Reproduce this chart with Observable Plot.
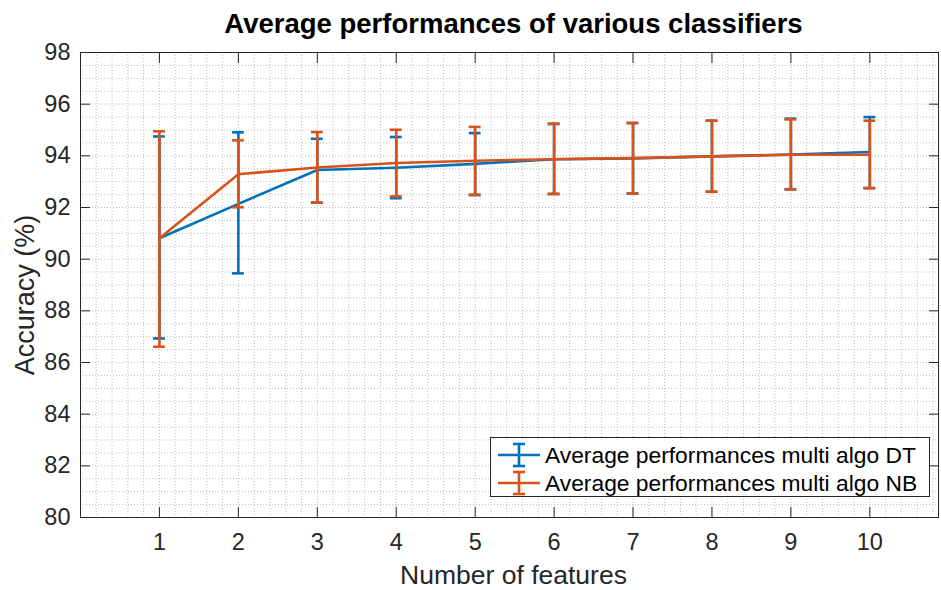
<!DOCTYPE html>
<html>
<head>
<meta charset="utf-8">
<script src="https://cdn.jsdelivr.net/npm/d3@7"></script>
<script src="https://cdn.jsdelivr.net/npm/@observablehq/plot@0.6"></script>
<style>
  body { margin: 0; background: #fff; font-family: "Liberation Sans", Arial, Helvetica, sans-serif; }
  #wrap { position: relative; width: 941px; height: 590px; }
  #legend { position: absolute; left: 490px; top: 437px; width: 440px; height: 60px; background: #fff; border: 1px solid #262626; box-sizing: border-box; }
  .entry { position: absolute; left: 5px; height: 28px; display: flex; align-items: center; }
  .entry span { font-size: 22.8px; color: #000; margin-left: 5px; white-space: nowrap; }
</style>
</head>
<body>
<div id="wrap"></div>
<script>
// ---- data ----
const features = [1, 2, 3, 4, 5, 6, 7, 8, 9, 10];
const dtMean  = [90.81, 92.14, 93.45, 93.54, 93.69, 93.87, 93.90, 93.98, 94.05, 94.15];
const dtLow   = [86.93, 89.45, 92.19, 92.36, 92.48, 92.52, 92.54, 92.61, 92.70, 92.75];
const dtHigh  = [94.75, 94.91, 94.66, 94.73, 94.88, 95.23, 95.27, 95.36, 95.44, 95.50];
const nbMean  = [90.81, 93.29, 93.55, 93.72, 93.81, 93.87, 93.91, 93.98, 94.04, 94.04];
const nbLow   = [86.61, 92.01, 92.19, 92.43, 92.50, 92.53, 92.54, 92.61, 92.71, 92.75];
const nbHigh  = [94.95, 94.60, 94.92, 95.01, 95.12, 95.25, 95.27, 95.36, 95.41, 95.36];
const seriesNames = ["Average performances multi algo DT", "Average performances multi algo NB"];
const colors = ["#0072BD", "#D95319"];
const yTicks = [80, 82, 84, 86, 88, 90, 92, 94, 96, 98];
const xTicks = features;

const dt = features.map((f, i) => ({x: f, m: dtMean[i], lo: dtLow[i], hi: dtHigh[i]}));
const nb = features.map((f, i) => ({x: f, m: nbMean[i], lo: nbLow[i], hi: nbHigh[i]}));

const capHalf = 0.075;
const font = "Liberation Sans, Arial, Helvetica, sans-serif";
const gridStyle = {stroke: "#bfbfbf", strokeWidth: 1, strokeDasharray: "1,2", strokeOpacity: 1};

function seriesMarks(data, color) {
  return [
    Plot.line(data, {x: "x", y: "m", stroke: color, strokeWidth: 2.6}),
    Plot.ruleX(data, {x: "x", y1: "lo", y2: "hi", stroke: color, strokeWidth: 2.6}),
    Plot.ruleY(data, {y: "hi", x1: d => d.x - capHalf, x2: d => d.x + capHalf, stroke: color, strokeWidth: 2.6}),
    Plot.ruleY(data, {y: "lo", x1: d => d.x - capHalf, x2: d => d.x + capHalf, stroke: color, strokeWidth: 2.6})
  ];
}

const chart = Plot.plot({
  width: 941,
  height: 590,
  marginLeft: 80,
  marginRight: 3,
  marginTop: 52,
  marginBottom: 73,
  style: {fontFamily: font, background: "#fff", overflow: "visible"},
  x: {domain: [0, 10.87]},
  y: {domain: [80, 98]},
  marks: [
    Plot.ruleX(d3.range(0.2, 10.87, 0.2), {x: d => d, ...gridStyle}),
    Plot.ruleY(d3.range(80.5, 98, 0.5), {y: d => d, ...gridStyle}),
    ...seriesMarks(dt, colors[0]),
    ...seriesMarks(nb, colors[1]),
    Plot.frame({stroke: "#262626", strokeWidth: 1}),
    Plot.axisX({ticks: xTicks, tickSize: -10, tickFormat: () => "", label: null, stroke: "#262626"}),
    Plot.axisX({anchor: "top", ticks: xTicks, tickSize: -10, tickFormat: () => "", label: null, stroke: "#262626"}),
    Plot.axisX({ticks: xTicks, tickSize: 0, tickPadding: 16, label: null, fontSize: 23.5, fill: "#262626"}),
    Plot.axisY({ticks: yTicks, tickSize: -10, tickFormat: () => "", label: null, stroke: "#262626"}),
    Plot.axisY({anchor: "right", ticks: yTicks, tickSize: -10, tickFormat: () => "", label: null, stroke: "#262626"}),
    Plot.axisY({ticks: yTicks, tickSize: 0, tickPadding: 10, label: null, fontSize: 23.5, fill: "#262626"}),
    Plot.text(["Average performances of various classifiers"], {text: d => d, frameAnchor: "top", textAnchor: "middle", lineAnchor: "middle", dx: 4, dy: -28.6, fontSize: 27.5, fontWeight: "bold", fill: "#000"}),
    Plot.text(["Number of features"], {text: d => d, frameAnchor: "bottom", textAnchor: "middle", lineAnchor: "middle", dx: 4, dy: 58.5, fontSize: 26.5, fill: "#262626"}),
    Plot.text(["Accuracy (%)"], {text: d => d, frameAnchor: "left", textAnchor: "middle", lineAnchor: "middle", dx: -55.6, dy: 10, rotate: -90, fontSize: 27, fill: "#262626"})
  ]
});

const wrap = document.getElementById("wrap");
wrap.appendChild(chart);

// legend
const legend = document.createElement("div");
legend.id = "legend";
seriesNames.forEach((name, i) => {
  const e = document.createElement("div");
  e.className = "entry";
  e.style.top = (i === 0 ? 3 : 31) + "px";
  const c = colors[i];
  e.innerHTML = `<svg width="44" height="24" style="overflow:visible"><line x1="2" y1="12" x2="44" y2="12" stroke="${c}" stroke-width="2.6"/><line x1="23" y1="1" x2="23" y2="23" stroke="${c}" stroke-width="2.6"/><line x1="17" y1="1" x2="29" y2="1" stroke="${c}" stroke-width="2.6"/><line x1="17" y1="23" x2="29" y2="23" stroke="${c}" stroke-width="2.6"/></svg><span>${name}</span>`;
  legend.appendChild(e);
});
wrap.appendChild(legend);
</script>
</body>
</html>
